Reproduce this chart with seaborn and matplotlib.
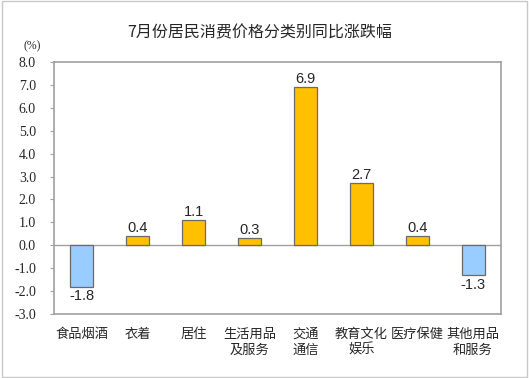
import matplotlib
matplotlib.use("Agg")
import matplotlib.pyplot as plt
import seaborn as sns
import pandas as pd

categories = ["食品烟酒", "衣着", "居住", "生活用品\n及服务", "交通\n通信", "教育文化\n娱乐", "医疗保健", "其他用品\n和服务"]
values = [-1.8, 0.4, 1.1, 0.3, 6.9, 2.7, 0.4, -1.3]
title = "7月份居民消费价格分类别同比涨跌幅"
y_ticks = [-3.0, -2.0, -1.0, 0.0, 1.0, 2.0, 3.0, 4.0, 5.0, 6.0, 7.0, 8.0]

sns.set_theme(style="white")
plt.rcParams['font.family'] = ['Noto Sans CJK SC', 'DejaVu Sans']

df = pd.DataFrame({"cat": categories, "val": values})
df["sign"] = ["neg" if v < 0 else "pos" for v in values]

fig = plt.figure(figsize=(5.29, 3.78), dpi=100)
ax = fig.add_axes([54/529, 1 - 314/378, 447/529, 252/378])

sns.barplot(data=df, x="cat", y="val", hue="sign", dodge=False,
            palette={"neg": "#99CCFF", "pos": "#FFC000"}, saturation=1,
            edgecolor="#6A6A6A", linewidth=0.9, width=0.41, legend=False, ax=ax, zorder=3)

ax.set_ylim(-3.0, 8.0)
ax.set_yticks(y_ticks)
ax.set_yticklabels([f"{t:.1f}" for t in y_ticks], family="Liberation Serif", fontsize=10)
ax.set_xlim(-0.5, len(categories) - 0.5)
ax.set_xlabel("")
ax.set_ylabel("")
ax.tick_params(axis="y", which="major", left=True, length=3, width=0.8, color="#A0A0A0", pad=10)
ax.tick_params(axis="x", bottom=False, labelsize=9.5, pad=4)
for lab in ax.get_xticklabels():
    lab.set_linespacing(1.3)
    lab.set_verticalalignment("top")

for s in ax.spines.values():
    s.set_color("#A0A0A0")
    s.set_linewidth(1.2)
ax.axhline(0, color="#A0A0A0", linewidth=1.0, zorder=1)

for i, v in enumerate(values):
    if v >= 0:
        ax.annotate(f"{v:.1f}", (i, v), xytext=(0, 1), textcoords="offset points",
                    ha="center", va="bottom", fontsize=10.5, family="Liberation Sans")
    else:
        ax.annotate(f"{v:.1f}", (i, v), xytext=(0, -2), textcoords="offset points",
                    ha="center", va="top", fontsize=10.5, family="Liberation Sans")

fig.text(260/529, 1 - 33/378, title, ha="center", va="center", fontsize=11.5)
fig.text(32/529, 1 - 46/378, "(%)", ha="center", va="center", fontsize=8.5, family="Liberation Serif")

border = plt.Rectangle((0.003, 0.003), 0.994, 0.994, transform=fig.transFigure,
                       fill=False, edgecolor="#C8C8C8", linewidth=1.0)
fig.patches.append(border)

fig.savefig("out.png", dpi=100)
